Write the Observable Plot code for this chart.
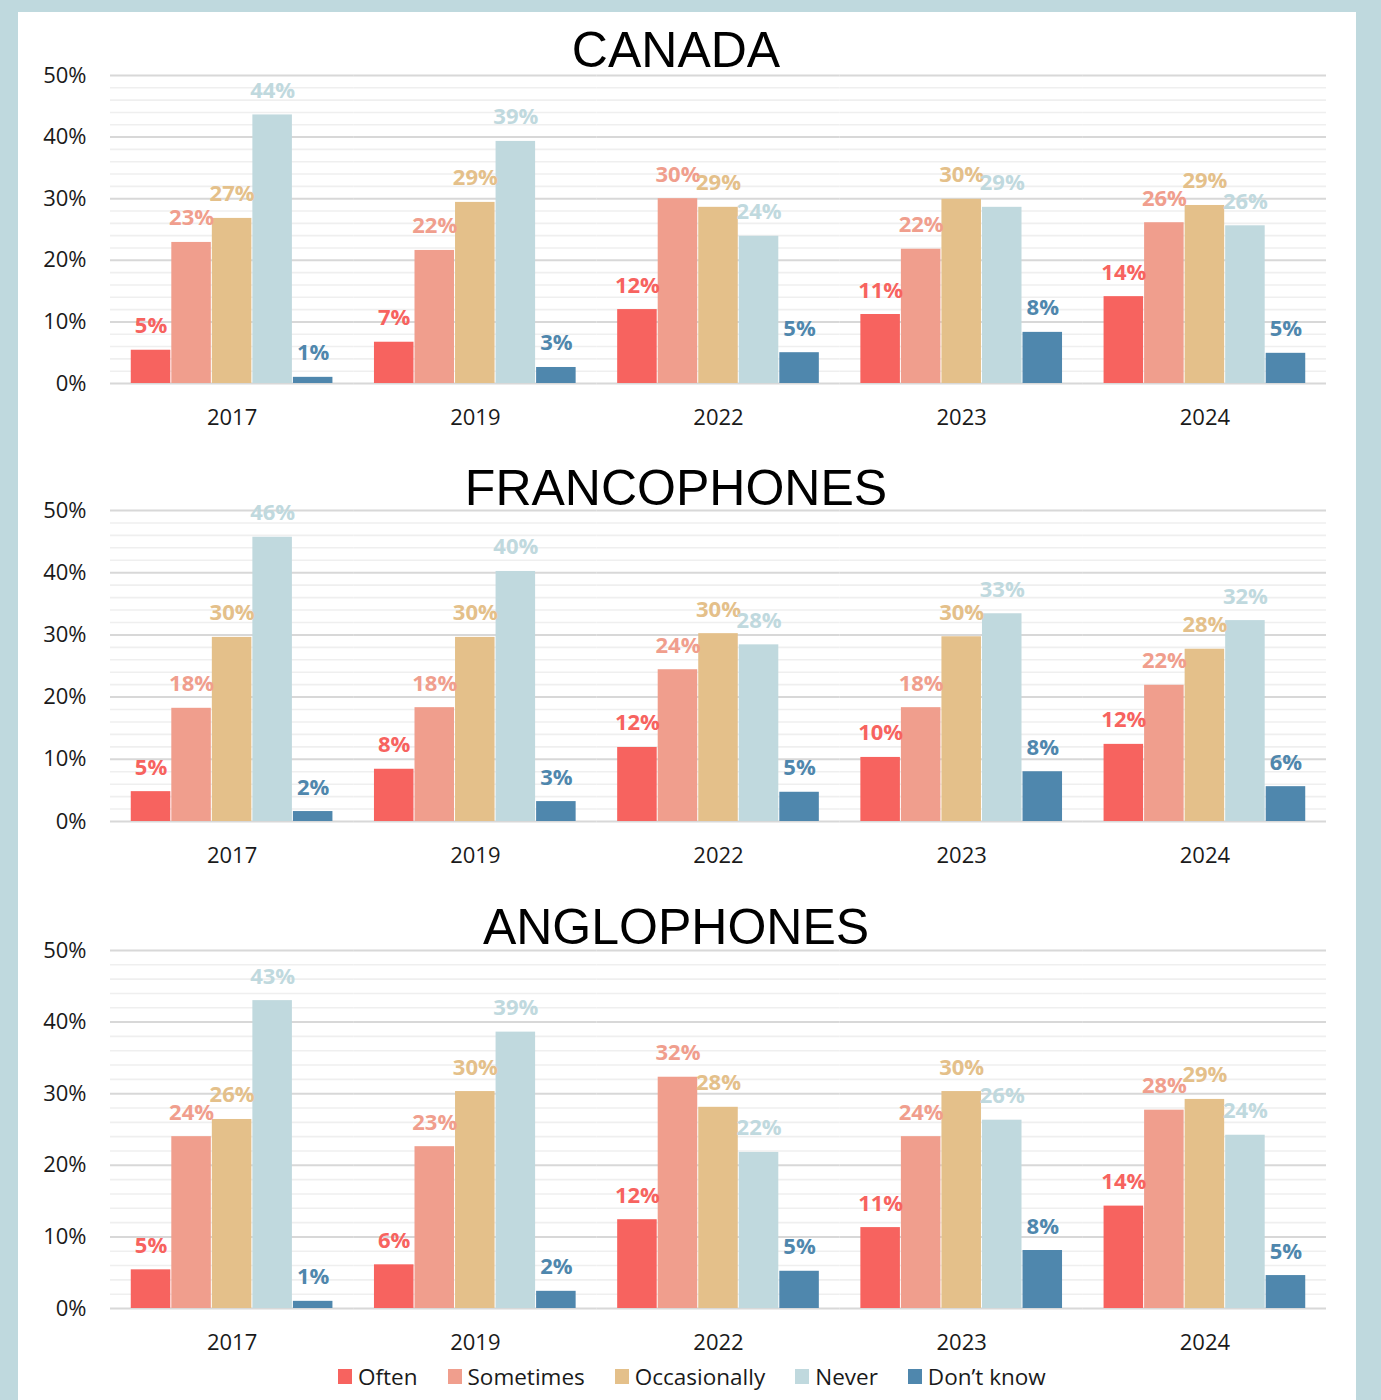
<!DOCTYPE html>
<html>
<head>
<meta charset="utf-8">
<script src="https://cdn.jsdelivr.net/npm/d3@7"></script>
<script src="https://cdn.jsdelivr.net/npm/@observablehq/plot@0.6"></script>
<style>
  html, body { margin: 0; padding: 0; }
  body { width: 1381px; height: 1400px; background: #bfd9de; position: relative; overflow: hidden; font-family: "Open Sans", sans-serif; }
  #panel { position: absolute; left: 18px; top: 12px; width: 1338px; height: 1400px; background: #ffffff; }
  .title { position: absolute; left: 7px; width: 1338px; text-align: center; font-family: "Liberation Sans", Arial, sans-serif; font-size: 50px; line-height: 1; color: #000; }
  .chart { position: absolute; left: 18px; }
  .chart svg { overflow: visible; }
  #legend { position: absolute; left: 338px; top: 1361px; display: flex; align-items: center; font-family: "Open Sans", sans-serif; font-size: 22.5px; color: #1a1a1a; white-space: nowrap; }
  .item { display: flex; align-items: center; margin-right: 30px; }
  .sw { width: 14px; height: 15px; margin-right: 6px; }
</style>
</head>
<body>
<div id="panel"></div>
<div id="legend"></div>
<script>
// ---- data ----
const years = ["2017", "2019", "2022", "2023", "2024"];
const categories = ["Often", "Sometimes", "Occasionally", "Never", "Don’t know"];
const colors = ["#f7635f", "#f09e8d", "#e4c08a", "#c0d9de", "#4f87ad"];
const panelTitles = ["CANADA", "FRANCOPHONES", "ANGLOPHONES"];
const majorTicks = [0, 10, 20, 30, 40, 50];
const minorTicks = [2, 4, 6, 8, 12, 14, 16, 18, 22, 24, 26, 28, 32, 34, 36, 38, 42, 44, 46, 48];

// rows = categories, columns = years (percent)
const canadaValues = [
  [5.4, 6.7, 12.0, 11.2, 14.1],
  [22.9, 21.6, 30.0, 21.8, 26.1],
  [26.8, 29.4, 28.6, 29.9, 28.9],
  [43.6, 39.3, 23.9, 28.6, 25.6],
  [1.0, 2.6, 5.0, 8.3, 4.9]
];
const francophoneValues = [
  [4.8, 8.4, 11.9, 10.3, 12.4],
  [18.2, 18.3, 24.4, 18.3, 21.9],
  [29.6, 29.6, 30.2, 29.7, 27.7],
  [45.7, 40.2, 28.4, 33.4, 32.3],
  [1.6, 3.2, 4.7, 8.0, 5.6]
];
const anglophoneValues = [
  [5.4, 6.1, 12.4, 11.3, 14.3],
  [24.0, 22.6, 32.3, 24.0, 27.7],
  [26.4, 30.3, 28.1, 30.3, 29.2],
  [43.0, 38.6, 21.8, 26.3, 24.2],
  [1.0, 2.4, 5.2, 8.1, 4.6]
];

// ---- layout (page pixels) ----
const panels = [
  {title: panelTitles[0], values: canadaValues,      top: 55,  plotH: 308, titleBase: 67},
  {title: panelTitles[1], values: francophoneValues, top: 490, plotH: 311, titleBase: 505},
  {title: panelTitles[2], values: anglophoneValues,  top: 930, plotH: 358, titleBase: 944}
];

const marginTop = 20, marginBottom = 50;

for (const p of panels) {
  const rows = [];
  p.values.forEach((arr, ci) => arr.forEach((v, yi) => rows.push({year: years[yi], cat: categories[ci], value: v})));

  const t = document.createElement("div");
  t.className = "title";
  t.textContent = p.title;
  t.style.top = (p.titleBase - 42) + "px";
  document.body.appendChild(t);

  const chart = Plot.plot({
    width: 1338,
    height: marginTop + p.plotH + marginBottom,
    marginLeft: 92,
    marginRight: 30,
    marginTop,
    marginBottom,
    style: {background: "transparent", fontFamily: "'Open Sans', sans-serif", fontSize: "22px", color: "#1a1a1a", overflow: "visible"},
    fx: {domain: years, padding: 0, round: false, axis: null, label: null},
    x: {domain: categories, paddingInner: 0, paddingOuter: 0.5, round: false, axis: null},
    y: {domain: [0, 50], axis: null},
    color: {domain: categories, range: colors},
    marks: [
      Plot.ruleY(minorTicks, {stroke: "#efefef", strokeWidth: 1.6}),
      Plot.ruleY(majorTicks, {stroke: "#d8d8d8", strokeWidth: 2}),
      Plot.barY(rows, {fx: "year", x: "cat", y: "value", fill: "cat", insetLeft: 0.5, insetRight: 0.5}),
      Plot.text(rows, {fx: "year", x: "cat", y: "value", text: d => Math.round(d.value) + "%", fill: "cat",
        lineAnchor: "bottom", dy: -17, fontSize: 22, fontWeight: 700, fontFamily: "'Open Sans', sans-serif"}),
      Plot.axisY(majorTicks, {tickFormat: d => d + "%", tickSize: 0, tickPadding: 24, fontSize: 22, label: null, fill: "#1a1a1a"}),
      Plot.axisFx({anchor: "bottom", tickSize: 0, tickPadding: 26, fontSize: 22, label: null, fill: "#1a1a1a"})
    ]
  });
  const wrap = document.createElement("div");
  wrap.className = "chart";
  wrap.style.top = p.top + "px";
  wrap.appendChild(chart);
  document.body.appendChild(wrap);
}

// ---- legend ----
const legend = document.getElementById("legend");
categories.forEach((c, i) => {
  const item = document.createElement("div");
  item.className = "item";
  const sw = document.createElement("div");
  sw.className = "sw";
  sw.style.background = colors[i];
  const lab = document.createElement("span");
  lab.textContent = c;
  item.appendChild(sw);
  item.appendChild(lab);
  legend.appendChild(item);
});
</script>
</body>
</html>
